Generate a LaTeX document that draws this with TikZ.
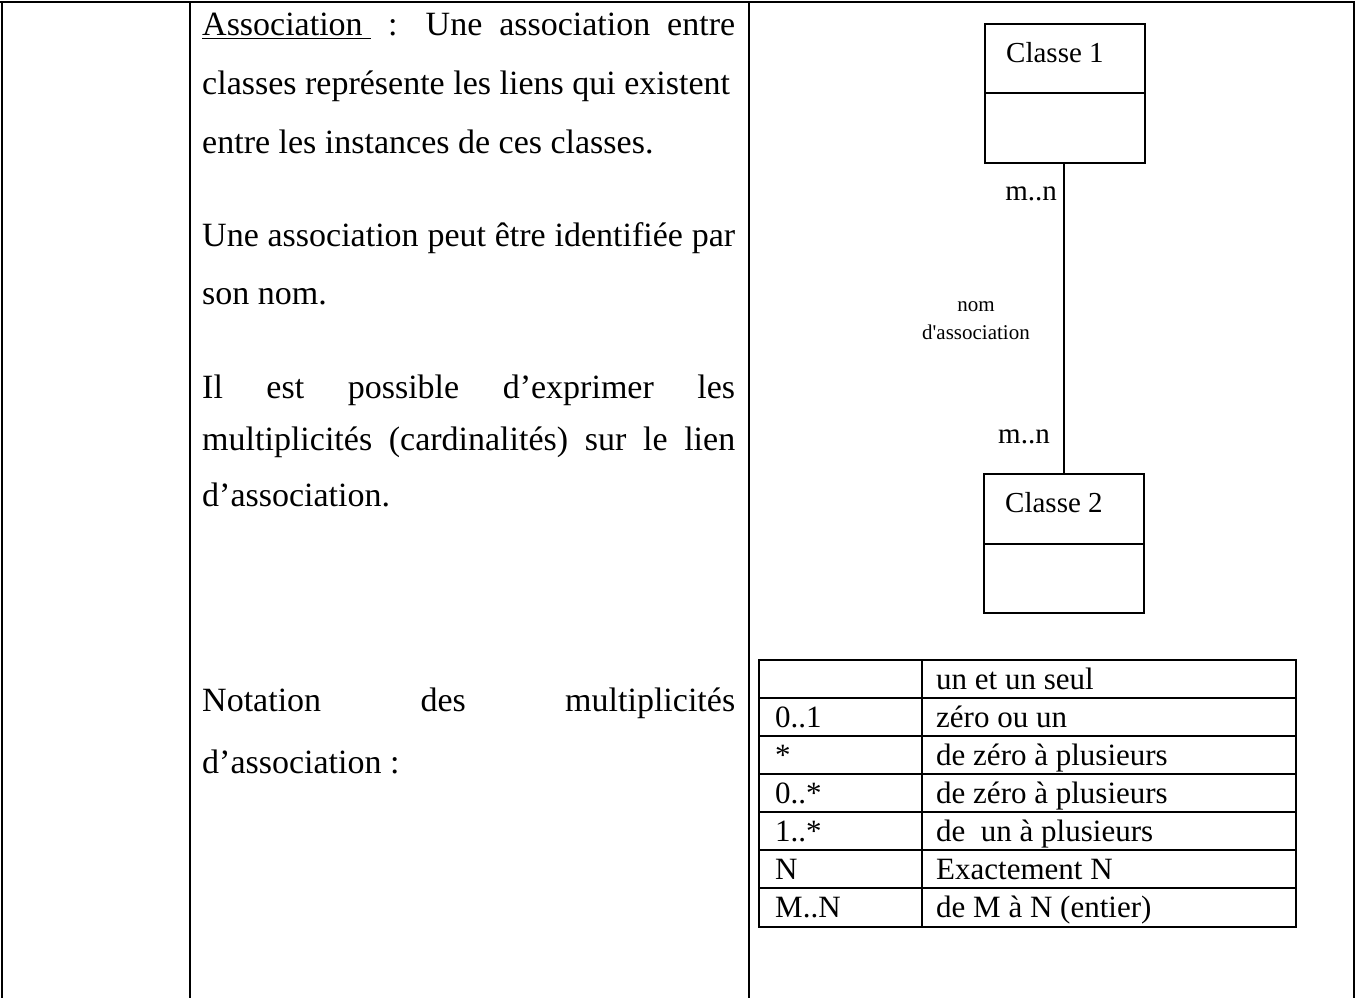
\documentclass[tikz,border=0pt]{standalone}
\usepackage{fontspec}
\setmainfont{Liberation Serif}
\begin{document}
\begin{tikzpicture}[x=1pt,y=-1pt,
  frame/.style={line width=2.2pt},
  thin/.style={line width=1.6pt},
  body/.style={anchor=base west,inner sep=0pt,font=\fontsize{34}{40}\selectfont},
  cell/.style={anchor=base west,inner sep=0pt,font=\fontsize{31}{36}\selectfont},
  cls/.style={anchor=base west,inner sep=0pt,font=\fontsize{29}{34}\selectfont},
  small/.style={anchor=base,inner sep=0pt,font=\fontsize{21}{25}\selectfont}]
\useasboundingbox (0,0) rectangle (1355,998);

% outer table frame
\draw[frame] (0,2) -- (1355,2);
\draw[frame] (2,2) -- (2,998);
\draw[frame] (190,2) -- (190,998);
\draw[frame] (749,2) -- (749,998);
\draw[frame] (1354,2) -- (1354,998);

% explanatory text
\newcommand{\jline}[1]{\makebox[533pt][s]{#1}}
\node[body] (t1) at (202,36) {\jline{\underline{Association\ }\ : Une association entre}};
\node[body] (t2) at (202,94) {classes représente les liens qui existent};
\node[body] (t3) at (202,153) {entre les instances de ces classes.};
\node[body] (t4) at (202,246) {\jline{Une association peut être identifiée par}};
\node[body] (t5) at (202,304) {son nom.};
\node[body] (t6) at (202,398) {\jline{Il est possible d’exprimer les}};
\node[body] (t7) at (202,450) {\jline{multiplicités (cardinalités) sur le lien}};
\node[body] (t8) at (202,506) {d’association.};
\node[body] (t9) at (202,711) {\jline{Notation des multiplicités}};
\node[body] (t10) at (202,773) {d’association :};

% class boxes
\draw[thin] (985,24) rectangle (1145,163);
\draw[thin] (985,93) -- (1145,93);
\coordinate (c1) at (1064,163);
\node[cls] (l1) at (1006,63) {Classe 1};
\draw[thin] (984,474) rectangle (1144,613);
\draw[thin] (984,544) -- (1144,544);
\coordinate (c2) at (1064,474);
\node[cls] (l2) at (1005,512) {Classe 2};
\draw[thin] (c1) -- (c2);
\node[cls,anchor=base east] (m1) at (1057,200) {m..n};
\node[cls] (m2) at (998,443) {m..n};
\node[small] (n1) at (976,311) {nom};
\node[small] (n2) at (976,339) {d\textquotesingle association};

% multiplicity table
\draw[frame] (759,660) rectangle (1296,927);
\foreach \r in {698,736,774,812,850,888} \draw[frame] (759,\r) -- (1296,\r);
\draw[frame] (922,660) -- (922,927);
\node[cell] (r1b) at (936,689) {un et un seul};
\node[cell] (r2a) at (775,727) {0..1};
\node[cell] (r2b) at (936,727) {zéro ou un};
\node[cell] (r3a) at (775,765) {*};
\node[cell] (r3b) at (936,765) {de zéro à plusieurs};
\node[cell] (r4a) at (775,803) {0..*};
\node[cell] (r4b) at (936,803) {de zéro à plusieurs};
\node[cell] (r5a) at (775,841) {1..*};
\node[cell] (r5b) at (936,841) {de\ \ un à plusieurs};
\node[cell] (r6a) at (775,879) {N};
\node[cell] (r6b) at (936,879) {Exactement N};
\node[cell] (r7a) at (775,917) {M..N};
\node[cell] (r7b) at (936,917) {de M à N (entier)};
\end{tikzpicture}
\end{document}
